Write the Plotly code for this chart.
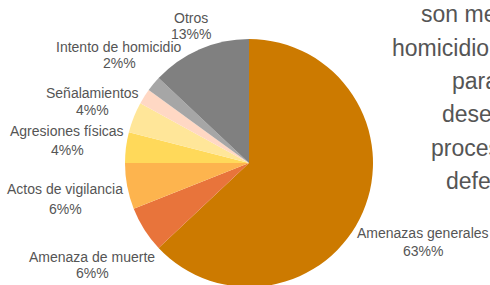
import plotly.graph_objects as go

# Data
categories = ["Amenazas generales", "Amenaza de muerte", "Actos de vigilancia",
              "Agresiones físicas", "Señalamientos", "Desplazamiento",
              "Intento de homicidio", "Otros"]
values = [63, 6, 6, 4, 4, 2, 2, 13]
show_label = [True, True, True, True, True, False, True, True]
colors = ["#CC7A00", "#E8743B", "#FDB44E", "#FFD95A", "#FFE699", "#FFD8C4", "#A6A6A6", "#808080"]

side_text = ["son me", "homicidio", "para", "dese", "proces", "defe"]

# Layout (pixel positions of label lines in the page)
label_x = [423, 92, 65, 67, 92, None, 119, 191]
label_y1 = [233, 257, 189, 131, 93, None, 47, 18]
label_y2 = [251, 273, 209, 150, 110, None, 63, 34]
side_x = [419, 390, 450, 440, 429, 444]
side_y = [14, 48, 81, 114, 148, 181]

W, H = 490, 287
ML, MR, MT, MB = 8, 0, 39, 0
PW, PH = W - ML - MR, H - MT - MB


def px(x):
    return (x - ML) / PW


def py(y):
    return 1 - (y - MT) / PH


fig = go.Figure(go.Pie(
    labels=categories,
    values=values,
    textinfo="none",
    sort=False,
    direction="clockwise",
    rotation=0,
    marker=dict(colors=colors, line=dict(width=0)),
    showlegend=False,
    hoverinfo="label+percent",
))

label_font = dict(family="Liberation Sans Narrow, Arial Narrow, sans-serif", size=14, color="#555555")
for c, v, s, x, y1, y2 in zip(categories, values, show_label, label_x, label_y1, label_y2):
    if not s:
        continue
    fig.add_annotation(text=c, x=px(x), y=py(y1), xref="paper", yref="paper",
                       xanchor="center", yanchor="middle", showarrow=False, font=label_font)
    fig.add_annotation(text=f"{v}%%", x=px(x), y=py(y2), xref="paper", yref="paper",
                       xanchor="center", yanchor="middle", showarrow=False, font=label_font)

for t, x, y in zip(side_text, side_x, side_y):
    fig.add_annotation(text=t, x=px(x), y=py(y), xref="paper", yref="paper",
                       xanchor="left", yanchor="middle", showarrow=False,
                       font=dict(family="Liberation Sans, Arial, sans-serif", size=23, color="#555555"))

fig.update_layout(
    width=W, height=H,
    margin=dict(l=ML, r=MR, t=MT, b=MB, autoexpand=False),
    paper_bgcolor="white", plot_bgcolor="white",
)

fig.write_html(
    "out.html",
    config={"displayModeBar": False},
    post_script="document.body.style.margin='0';document.body.style.overflow='hidden';",
)
